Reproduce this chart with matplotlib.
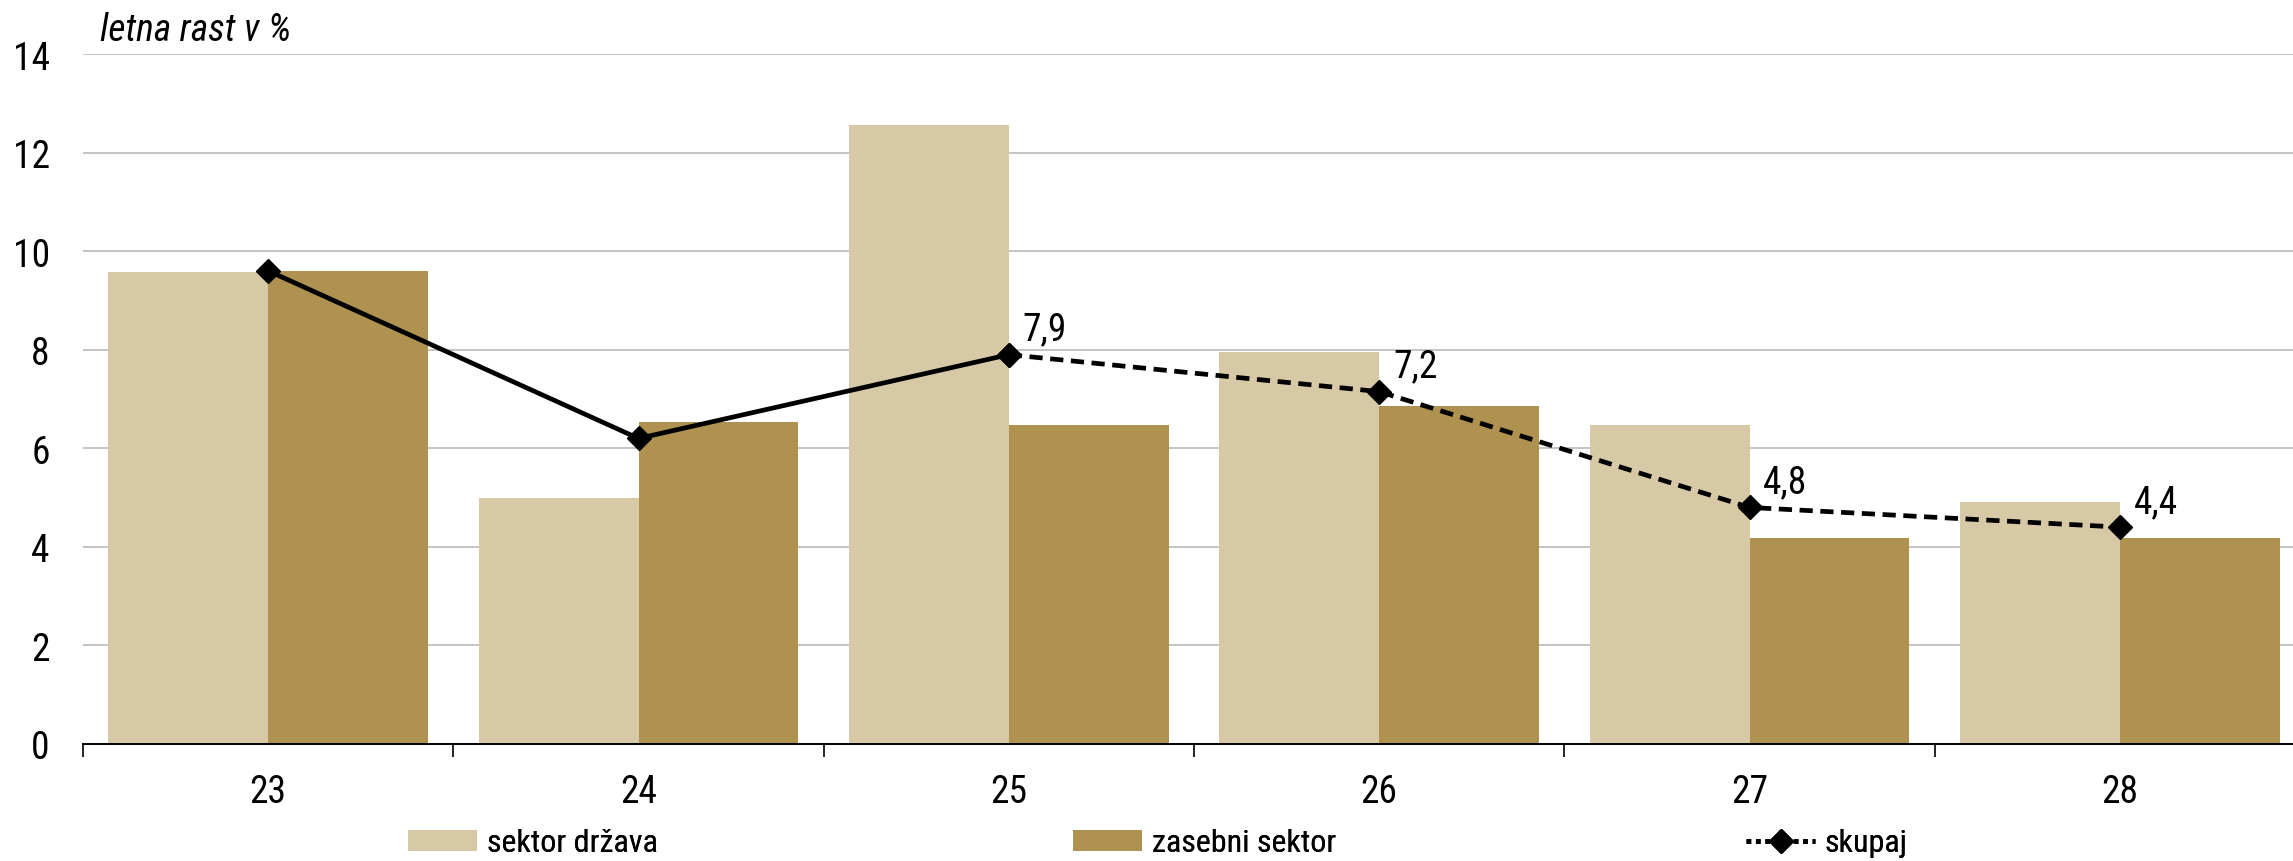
import matplotlib
matplotlib.use('Agg')
import matplotlib.pyplot as plt
from matplotlib.lines import Line2D
import numpy as np

plt.rcParams['font.family'] = ['Liberation Sans Narrow', 'Arial Narrow', 'Roboto Condensed',
                               'PT Sans Narrow', 'DejaVu Sans']

categories = ['23', '24', '25', '26', '27', '28']
sektor_drzava = [9.57, 5.0, 12.56, 7.95, 6.48, 4.92]
zasebni_sektor = [9.60, 6.54, 6.48, 6.85, 4.18, 4.18]
skupaj = [9.6, 6.2, 7.9, 7.15, 4.8, 4.4]
skupaj_labels = ['', '', '7,9', '7,2', '4,8', '4,4']
split = 2  # from this point on the line is dashed

light = '#D8C9A6'
dark = '#AF9150'
W, H = 2293, 862

fig = plt.figure(figsize=(W / 100, H / 100), dpi=100)
ax = fig.add_axes([83 / W, 1 - 745 / H, 2222 / W, (745 - 55) / H])

x = np.arange(len(categories))
bw = 0.432
b1 = ax.bar(x - bw, sektor_drzava, bw, align='edge', color=light, zorder=2)
b2 = ax.bar(x, zasebni_sektor, bw, align='edge', color=dark, zorder=2)

lw = 3.4
ms = 12.5
ax.plot(x[:split + 1], skupaj[:split + 1], color='black', lw=lw, marker='D', ms=ms,
        zorder=4)
ax.plot(x[split:], skupaj[split:], color='black', lw=lw, marker='D', ms=ms,
        linestyle=(0, (2.8, 1.6)), zorder=4)

for xi, yi, t in zip(x, skupaj, skupaj_labels):
    if t:
        ax.annotate(t, (xi, yi), xytext=(10, 11), textcoords='offset points',
                    ha='left', va='baseline', fontsize=27)

ax.set_ylim(0, 14)
ax.set_xlim(-0.5, len(categories) - 0.5)
ax.set_yticks(np.arange(0, 15, 2))
ax.yaxis.grid(True, color='#C4C4C4', lw=1.4)
ax.set_axisbelow(True)
ax.tick_params(axis='y', length=0, pad=24, labelsize=27)

ax.set_xticks(x)
ax.set_xticklabels(categories)
ax.set_xticks(np.arange(-0.5, len(categories), 1), minor=True)
ax.tick_params(axis='x', which='major', length=0, pad=21, labelsize=27)
ax.tick_params(axis='x', which='minor', length=9, width=1.2, color='black')

for s in ['top', 'right', 'left']:
    ax.spines[s].set_visible(False)
ax.spines['bottom'].set_linewidth(1.4)

fig.text(100 / W, 1 - 41 / H, 'letna rast v %', fontsize=27, style='italic', va='baseline')

# legend: three separate entries spread along the bottom
proxy = Line2D([], [], color='black', lw=lw, marker='D', ms=ms, linestyle=(0, (1.0, 1.0)))
entries = [(b1, 'sektor država', 408), (b2, 'zasebni sektor', 1073), (proxy, 'skupaj', 1746)]
for handle, label, px in entries:
    leg = fig.legend([handle], [label], loc='center left', bbox_to_anchor=(px / W, 1 - 844 / H),
                     bbox_transform=fig.transFigure, frameon=False, fontsize=23,
                     borderpad=0, borderaxespad=0, handlelength=2.16, handleheight=0.62,
                     handletextpad=0.3)
    fig.add_artist(leg)

fig.savefig('out.png', dpi=100)
